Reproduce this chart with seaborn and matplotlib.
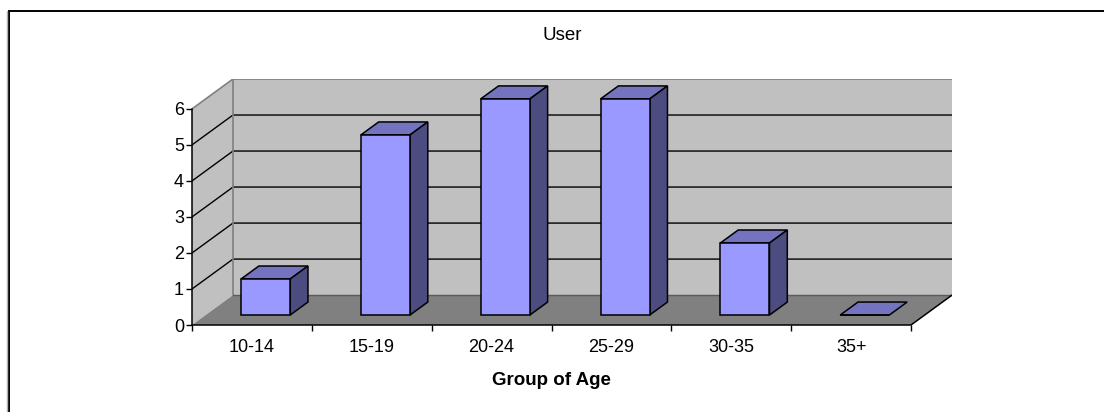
import numpy as np
import pandas as pd
import matplotlib
matplotlib.use("Agg")
import matplotlib.pyplot as plt
from matplotlib.patches import Polygon, Rectangle
from matplotlib.lines import Line2D
import seaborn as sns

# Data
age_groups = ["10-14", "15-19", "20-24", "25-29", "30-35", "35+"]
users = [1, 5, 6, 6, 2, 0]
y_ticks = [0, 1, 2, 3, 4, 5, 6]

chart_title = "User"
x_title = "Group of Age"

# Oblique depth of the plot box (category units, value units)
DEPTH_X = 0.342
DEPTH_Y = 0.83
# Bars sit between these fractions of the box depth
BAR_Z0, BAR_Z1 = 0.333, 0.768
BAR_WIDTH = 0.41

FRONT = "#9999FF"
TOP = "#7373BF"
SIDE = "#4C4C80"
WALL = "#C0C0C0"
FLOOR = "#808080"
EDGE_GRAY = "#808080"

sns.set_theme(style="white")
plt.rcParams["font.family"] = ["Liberation Sans", "DejaVu Sans"]

W, H = 1104, 412
fig = plt.figure(figsize=(W / 100, H / 100), dpi=100)
fig.patch.set_facecolor("white")
ax = fig.add_axes([192 / W, (H - 325) / H, 760 / W, 246 / H])
ax.set_facecolor("white")

df = pd.DataFrame({"age": age_groups, "users": users})
n = len(age_groups)
ymax = max(y_ticks)
x_lo, x_hi = -0.5, n - 0.5

# Front faces of the bars
sns.barplot(data=df, x="age", y="users", color=FRONT, saturation=1,
            width=BAR_WIDTH, edgecolor="black", linewidth=1.1, ax=ax, zorder=3)
fronts = list(ax.containers[0])

# Walls and floor
ax.add_patch(Polygon([(x_lo, 0), (x_lo, ymax), (x_lo + DEPTH_X, ymax + DEPTH_Y),
                      (x_lo + DEPTH_X, DEPTH_Y)], closed=True, fc=WALL, ec="none", zorder=0))
ax.add_patch(Rectangle((x_lo + DEPTH_X, DEPTH_Y), n, ymax, fc=WALL, ec="none", zorder=0))
ax.add_patch(Polygon([(x_lo, 0), (x_hi, 0), (x_hi + DEPTH_X, DEPTH_Y),
                      (x_lo + DEPTH_X, DEPTH_Y)], closed=True, fc=FLOOR, ec="none", zorder=0))

# Gridlines running across the side wall and the back wall
for v in y_ticks[1:-1]:
    ax.plot([x_lo, x_lo + DEPTH_X, x_hi + DEPTH_X], [v, v + DEPTH_Y, v + DEPTH_Y],
            color="black", lw=1, zorder=1, solid_capstyle="butt")
ax.plot([x_lo, x_lo + DEPTH_X, x_hi + DEPTH_X], [ymax, ymax + DEPTH_Y, ymax + DEPTH_Y],
        color=EDGE_GRAY, lw=1.2, zorder=1)
ax.plot([x_lo + DEPTH_X, x_lo + DEPTH_X], [DEPTH_Y, ymax + DEPTH_Y],
        color=EDGE_GRAY, lw=1.2, zorder=1)
ax.plot([x_lo + DEPTH_X, x_hi + DEPTH_X], [DEPTH_Y, DEPTH_Y],
        color="#5A5A5A", lw=1, zorder=1)
ax.plot([x_hi, x_hi + DEPTH_X], [0, DEPTH_Y], color="black", lw=1.1, zorder=1)

# Extrude each front face into a 3-D column
dzx = (BAR_Z1 - BAR_Z0) * DEPTH_X
dzy = (BAR_Z1 - BAR_Z0) * DEPTH_Y
for rect in fronts:
    rect.set_x(rect.get_x() + BAR_Z0 * DEPTH_X)
    rect.set_y(BAR_Z0 * DEPTH_Y)
    x0, w = rect.get_x(), rect.get_width()
    y0, h = rect.get_y(), rect.get_height()
    x1, y1 = x0 + w, y0 + h
    ax.add_patch(Polygon([(x0, y1), (x1, y1), (x1 + dzx, y1 + dzy), (x0 + dzx, y1 + dzy)],
                         closed=True, fc=TOP, ec="black", lw=1.1, zorder=3,
                         joinstyle="miter"))
    if h > 0:
        ax.add_patch(Polygon([(x1, y0), (x1 + dzx, y0 + dzy), (x1 + dzx, y1 + dzy), (x1, y1)],
                             closed=True, fc=SIDE, ec="black", lw=1.1, zorder=3,
                             joinstyle="miter"))
    rect.set_zorder(3.5)

ax.set_xlim(x_lo, x_hi + DEPTH_X)
ax.set_ylim(0, ymax + DEPTH_Y)

# Axes, ticks and labels
for side in ("top", "right"):
    ax.spines[side].set_visible(False)
ax.spines["left"].set_bounds(0, ymax)
ax.spines["bottom"].set_bounds(x_lo, x_hi)
for side in ("left", "bottom"):
    ax.spines[side].set_color("black")
    ax.spines[side].set_linewidth(1.1)
    ax.spines[side].set_zorder(2)

ax.set_yticks(y_ticks)
ax.set_yticklabels([str(t) for t in y_ticks])
ax.set_xticks(range(n))
ax.set_xticklabels(age_groups)
ax.set_xticks(np.arange(n + 1) - 0.5, minor=True)
ax.tick_params(axis="y", left=True, length=4.3, width=1, pad=1.5,
               labelsize=13, colors="black")
ax.tick_params(axis="x", which="major", bottom=True, length=0, pad=10,
               labelsize=13, colors="black")
ax.tick_params(axis="x", which="minor", bottom=True, length=4.3, width=1, color="black")

ax.set_ylabel("")
ax.set_xlabel(x_title, fontsize=13.5, fontweight="bold", color="black")
ax.xaxis.set_label_coords((551.5 - 192) / 760, (325 - 372) / 246)

fig.suptitle(chart_title, x=562 / W, y=1 - 35 / H, va="center",
             fontsize=13.5, color="black")

# Chart area border
fig.add_artist(Line2D([7 / W, 7 / W], [0, (H - 11) / H], color="#B0B0B0", lw=1,
                      transform=fig.transFigure))
fig.add_artist(Rectangle((8.5 / W, -0.05), 1.2, (H - 10.5) / H + 0.05,
                         transform=fig.transFigure, fill=False, ec="black", lw=1.4))

fig.savefig("out.png", dpi=100)
